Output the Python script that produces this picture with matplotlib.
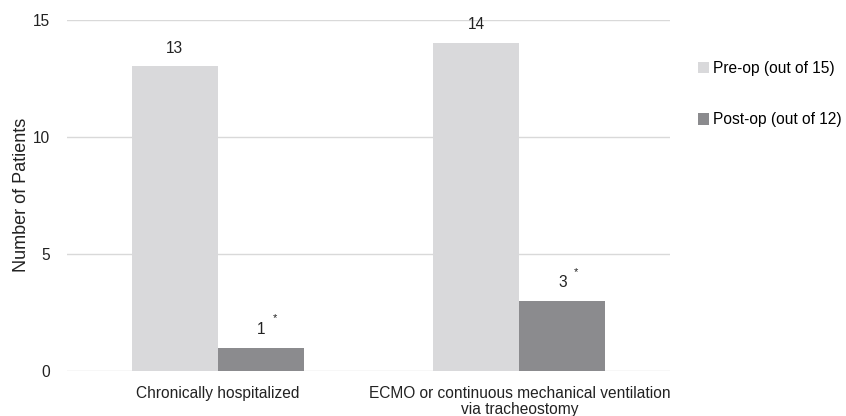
import numpy as np
import matplotlib.pyplot as plt

plt.rcParams['font.family'] = ['Liberation Sans', 'DejaVu Sans']

# Дані з рисунка
categories = ['Chronically hospitalized',
              'ECMO or continuous mechanical ventilation\nvia tracheostomy']
pre_op = [13, 14]
post_op = [1, 3]
post_marks = ['*', '*']
series_names = ['Pre-op (out of 15)', 'Post-op (out of 12)']

pre_color = '#d9d9db'
post_color = '#8b8b8e'
txt = '#222222'
fs = 11.2

fig = plt.figure(figsize=(8.46, 4.16), dpi=100)
ax = fig.add_axes([0.0792, 0.108, 0.713, 0.845])

x = np.arange(len(categories))
w = 0.285
b1 = ax.bar(x - w / 2, pre_op, w, color=pre_color, label=series_names[0])
b2 = ax.bar(x + w / 2, post_op, w, color=post_color, label=series_names[1])

# Підписи значень
for rect, v in zip(b1, pre_op):
    ax.annotate(str(v), (rect.get_x() + rect.get_width() / 2, v),
                xytext=(0, 13), textcoords='offset points',
                ha='center', va='center', fontsize=fs, color=txt)
for rect, v, m in zip(b2, post_op, post_marks):
    cx = rect.get_x() + rect.get_width() / 2
    ax.annotate(str(v), (cx, v), xytext=(0, 13), textcoords='offset points',
                ha='center', va='center', fontsize=fs, color=txt)
    ax.annotate(m, (cx, v), xytext=(10, 21), textcoords='offset points',
                ha='center', va='center', fontsize=8, color=txt)

ax.set_xlim(-0.5, 1.5)
ax.set_ylim(0, 15)
ax.set_yticks([0, 5, 10, 15])
ax.set_xticks(x)
ax.set_xticklabels(categories, fontsize=fs, color=txt, linespacing=1.05)
ax.tick_params(axis='y', labelsize=fs, colors=txt, length=0, pad=12)
ax.tick_params(axis='x', length=0, pad=11)
ax.yaxis.grid(True, color='#d9d9d9', linewidth=1)
ax.set_axisbelow(True)
for s in ax.spines.values():
    s.set_visible(False)
ax.set_ylabel('Number of Patients', fontsize=13, color=txt, labelpad=2)

ax.legend(loc='upper left', bbox_to_anchor=(1.035, 0.9), frameon=False,
          fontsize=fs, handlelength=0.75, handleheight=0.75,
          handletextpad=0.25, labelspacing=2.35, borderaxespad=0)

fig.savefig('out.png', dpi=100)
